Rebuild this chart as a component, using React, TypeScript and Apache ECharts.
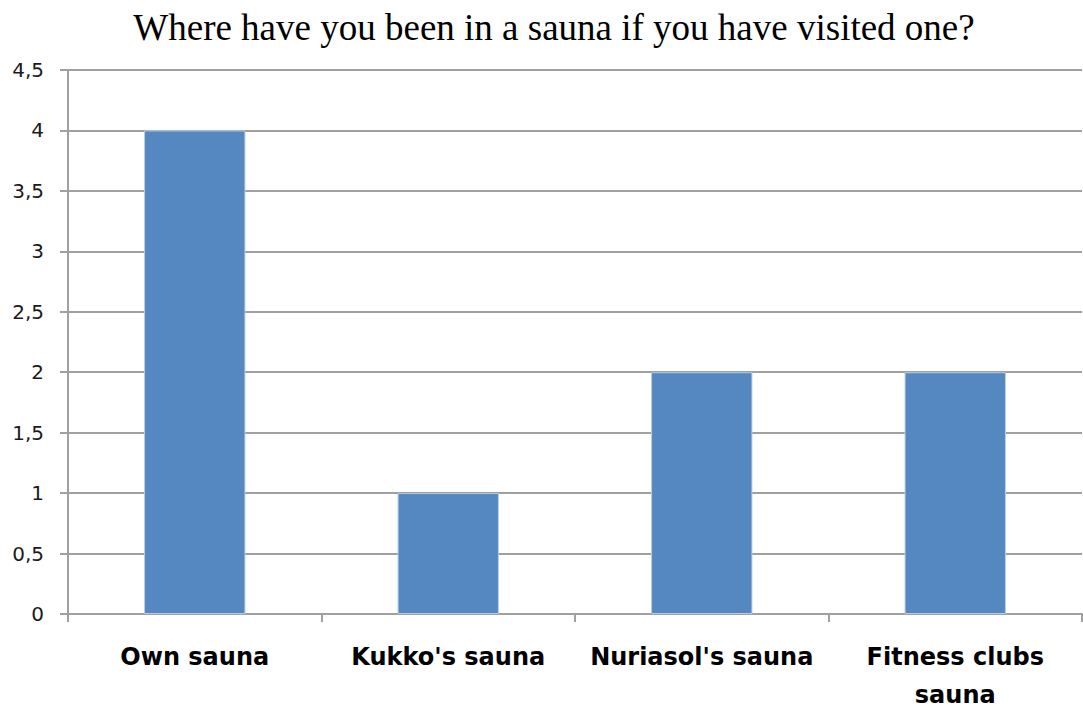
import React, { useEffect, useRef } from "react";
import * as echarts from "echarts";

const titleText = "Where have you been in a sauna if you have visited one?";
const categories = ["Own sauna", "Kukko's sauna", "Nuriasol's sauna", "Fitness clubs\nsauna"];
const values = [4, 1, 2, 2];
const yMin = 0;
const yMax = 4.5;
const yInterval = 0.5;

export default function App() {
  const ref = useRef<HTMLDivElement>(null);
  useEffect(() => {
    if (!ref.current) return;
    const chart = echarts.init(ref.current, null, { renderer: "svg" });
    chart.setOption({
      animation: false,
      backgroundColor: "#ffffff",
      title: {
        text: titleText,
        left: 549,
        textAlign: "center",
        top: 4,
        textStyle: {
          fontFamily: "Liberation Serif",
          fontWeight: "normal",
          fontSize: 37,
          color: "#000000",
        },
      },
      grid: {
        left: 68,
        right: 1,
        top: 70,
        bottom: 94,
        containLabel: false,
        outerBoundsMode: "none",
      },
      xAxis: {
        type: "category",
        data: categories,
        axisLine: { show: true, lineStyle: { color: "#a0a0a0", width: 2 } },
        axisTick: { show: true, length: 8, lineStyle: { color: "#a0a0a0", width: 2 } },
        axisLabel: {
          interval: 0,
          margin: 24,
          fontFamily: "DejaVu Sans",
          fontWeight: "bold",
          fontSize: 24,
          lineHeight: 38,
          color: "#000000",
        },
      },
      yAxis: {
        type: "value",
        min: yMin,
        max: yMax,
        interval: yInterval,
        axisLine: { show: true, lineStyle: { color: "#a0a0a0", width: 2 } },
        axisTick: { show: true, length: 8, lineStyle: { color: "#a0a0a0", width: 2 } },
        splitLine: { show: true, lineStyle: { color: "#a0a0a0", width: 2 } },
        axisLabel: {
          margin: 24,
          fontFamily: "DejaVu Sans",
          fontSize: 20,
          color: "#1a1a1a",
          formatter: (v: number) => String(v).replace(".", ","),
        },
      },
      series: [
        {
          type: "bar",
          data: values,
          barWidth: "40%",
          itemStyle: { color: "#5588c0", borderColor: "#b8cde4", borderWidth: 1 },
        },
      ],
    });
    return () => chart.dispose();
  }, []);
  return (
    <div
      ref={ref}
      style={{ position: "fixed", left: 0, top: 0, width: 1083, height: 708, background: "#fff" }}
    />
  );
}
